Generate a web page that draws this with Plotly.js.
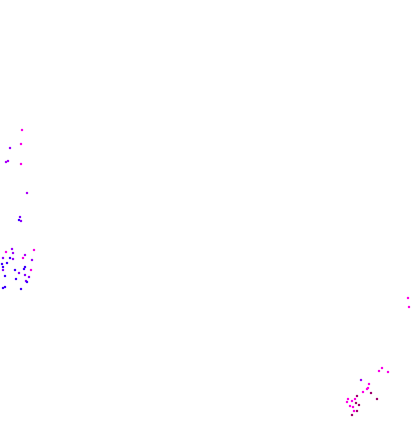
<!DOCTYPE html>
<html><head><meta charset="utf-8">
<script src="https://cdn.plot.ly/plotly-3.0.1.min.js"></script>
<style>html,body{margin:0;padding:0;background:#fff}#chart{width:413px;height:423px}</style>
</head><body><div id="chart"></div>
<script>
// Left cluster
const leftX = [22,21,10,6,8,21,27,20,19,21,12,6,13,34,25,3,10,13,23,32,7,2,3,25,24,31,3,15,19,25,5,29,16,26,27,5,3,21];
const leftY = [293,279,275,261,262,259,230,206,203,202,174,171,170,173,168,165,165,164,165,163,160,159,156,156,154,153,153,153,150,148,147,146,144,142,141,136,135,134];
const leftV = [0.7,0.7,0.4,0.45,0.45,0.7,0.45,0.3,0.1,0.35,0.4,0.7,0.4,0.7,0.45,0.35,0.1,0.4,0.7,0.4,0.1,0.1,0.1,0.1,0.1,0.7,0.35,0.1,0.35,0.35,0.1,0.35,0.1,0.35,0.1,0.1,0.1,0.1];
// Right cluster
const rightX = [382,379,388,361,369,368,367,363,371,357,377,348,355,352,347,356,359,350,353,354,357,352,408,409];
const rightY = [55,52,51,43,39,35,34,31,30,27,24,24,24,22,21,20,18,17,16,12,12,8,125,116];
const rightV = [0.7,0.7,0.7,0.4,0.7,0.72,0.72,0.72,0.95,0.95,0.95,0.72,0.72,0.72,0.72,0.95,0.95,0.72,0.72,0.72,0.95,0.95,0.72,0.72];

const cs = [[0,'#1e00ff'],[0.35,'#8a00ff'],[0.72,'#ff00e6'],[1,'#8a0050']];
function tr(x,y,v){return {type:'scatter',mode:'markers',x:x,y:y,showlegend:false,hoverinfo:'none',
  marker:{symbol:'square',size:2.2,color:v,cmin:0,cmax:1,colorscale:cs,line:{width:0}}};}
Plotly.newPlot('chart',[tr(leftX,leftY,leftV),tr(rightX,rightY,rightV)],{
  width:413,height:423,margin:{l:0,r:0,t:0,b:0},paper_bgcolor:'#fff',plot_bgcolor:'#fff',
  xaxis:{range:[0,413],visible:false},yaxis:{range:[0,423],visible:false}
},{displayModeBar:false,staticPlot:true});
</script></body></html>
